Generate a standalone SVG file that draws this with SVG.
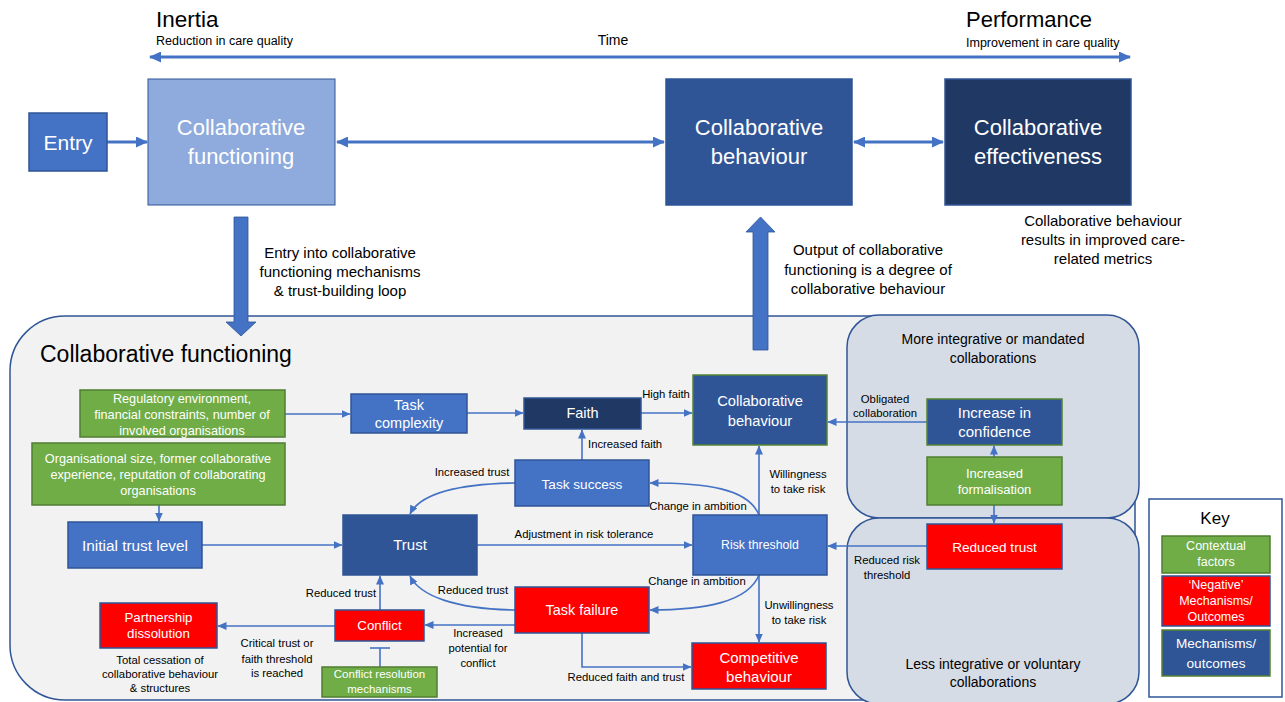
<svg xmlns="http://www.w3.org/2000/svg" width="1285" height="702" viewBox="0 0 1285 702">
<defs>
<marker id="ah" markerUnits="userSpaceOnUse" markerWidth="9" markerHeight="8" refX="8.5" refY="4" orient="auto-start-reverse"><path d="M0,0 L9,4 L0,8 z" fill="#4472C4"/></marker>
<marker id="ahb" markerUnits="userSpaceOnUse" markerWidth="12" markerHeight="11" refX="11" refY="5.5" orient="auto-start-reverse"><path d="M0,0 L12,5.5 L0,11 z" fill="#4472C4"/></marker>
</defs>
<style>
text{font-family:"Liberation Sans",Arial,sans-serif}
.w{fill:#fff}
.k{fill:#000}
.m{text-anchor:middle}
.c{stroke:#4472C4;stroke-width:1.6;fill:none;marker-end:url(#ah)}
.cb{stroke:#4472C4;stroke-width:3;fill:none;marker-end:url(#ahb);marker-start:url(#ahb)}
.lb{fill:#8FAADC;stroke:#2F5597;stroke-width:1}
.bl{fill:#4472C4;stroke:#2F5597;stroke-width:1.5}
.db{fill:#2F5597;stroke:#2F5597;stroke-width:1.5}
.dbg{fill:#2F5597;stroke:#548235;stroke-width:1.5}
.nv{fill:#203864;stroke:#2F5597;stroke-width:1.5}
.gr{fill:#70AD47;stroke:#507E32;stroke-width:1.5}
.rd{fill:#FF0000;stroke:#2F5597;stroke-width:1.5}
.lab{font-size:11.3px}
</style>

<!-- panels -->
<g id="panel-cf">
<rect x="10" y="316" width="1125" height="384" rx="55" fill="#F2F2F2" stroke="#2F5597" stroke-width="1.5"/>
<text x="40" y="362" font-size="23" class="k">Collaborative functioning</text>
</g>
<g id="panel-more">
<rect x="847" y="315" width="292" height="203" rx="32" fill="#D6DCE5" stroke="#2F5597" stroke-width="1.5"/>
<text class="m k" x="993" y="344" font-size="14">More integrative or mandated</text>
<text class="m k" x="993" y="363" font-size="14">collaborations</text>
</g>
<g id="panel-less">
<rect x="847" y="518" width="292" height="186" rx="32" fill="#D6DCE5" stroke="#2F5597" stroke-width="1.5"/>
<text class="m k" x="993" y="669" font-size="14">Less integrative or voluntary</text>
<text class="m k" x="993" y="687" font-size="14">collaborations</text>
</g>

<!-- top labels -->
<g id="timeline">
<text x="156" y="27" font-size="22.5" class="k">Inertia</text>
<text x="156" y="45" font-size="12.5" class="k">Reduction in care quality</text>
<text x="613" y="45" font-size="14" class="k m">Time</text>
<text x="966" y="27" font-size="22" class="k">Performance</text>
<text x="966" y="47" font-size="12.5" class="k">Improvement in care quality</text>
</g>

<!-- connectors -->
<g id="connectors">
<line class="cb" x1="150" y1="57" x2="1130" y2="57"/>
<line x1="107" y1="142" x2="147" y2="142" stroke="#4472C4" stroke-width="3" marker-end="url(#ahb)"/>
<line class="cb" x1="337" y1="142" x2="664" y2="142"/>
<line class="cb" x1="854" y1="142" x2="943" y2="142"/>
<polygon points="234,217 248,217 248,322 256,322 241,336 226,322 234,322" fill="#4472C4" stroke="#2F5597" stroke-width="0.8"/>
<polygon points="753,350 768,350 768,232 775,232 760.5,217 746,232 753,232" fill="#4472C4" stroke="#2F5597" stroke-width="0.8"/>

<line class="c" x1="285" y1="414" x2="350" y2="414"/>
<line class="c" x1="467" y1="413" x2="523" y2="413"/>
<line class="c" x1="641" y1="413" x2="692" y2="413"/>
<line class="c" x1="159" y1="505" x2="159" y2="521"/>
<line class="c" x1="202" y1="545" x2="342" y2="545"/>
<line class="c" x1="477" y1="545" x2="692" y2="545"/>
<line class="c" x1="927" y1="422" x2="828" y2="422"/>
<line class="c" x1="927" y1="546" x2="828" y2="546"/>
<line class="c" x1="994" y1="457" x2="994" y2="446"/>
<line class="c" x1="994" y1="505" x2="994" y2="523"/>
<line class="c" x1="582" y1="460" x2="582" y2="430"/>
<line class="c" x1="759" y1="515" x2="759" y2="446"/>
<line class="c" x1="759" y1="575" x2="759" y2="642"/>
<path class="c" d="M759,515 C748,488 705,483 650,483"/>
<path class="c" d="M759,575 C748,602 705,610 650,610"/>
<path class="c" d="M515,483 C455,484 420,494 410,514"/>
<path class="c" d="M515,610 C455,609 420,596 410,576"/>
<line class="c" x1="515" y1="625" x2="425" y2="625"/>
<line class="c" x1="335" y1="626" x2="218" y2="626"/>
<line class="c" x1="380" y1="610" x2="380" y2="576"/>
<polyline class="c" points="582,633 582,667 691,667"/>
<line x1="380" y1="667" x2="380" y2="648" stroke="#4472C4" stroke-width="1.6"/>
<line x1="370" y1="648" x2="390" y2="648" stroke="#4472C4" stroke-width="1.6"/>
</g>

<!-- connector labels -->
<g id="connector-labels">
<text class="m k" x="340" y="258" font-size="15">Entry into collaborative</text>
<text class="m k" x="340" y="277" font-size="15">functioning mechanisms</text>
<text class="m k" x="340" y="296" font-size="15">&amp; trust-building loop</text>
<text class="m k" x="868" y="255" font-size="15">Output of collaborative</text>
<text class="m k" x="868" y="275" font-size="15">functioning is a degree of</text>
<text class="m k" x="868" y="294" font-size="15">collaborative behaviour</text>
<text class="m k" x="1103" y="226" font-size="15">Collaborative behaviour</text>
<text class="m k" x="1103" y="245" font-size="15">results in improved care-</text>
<text class="m k" x="1103" y="264" font-size="15">related metrics</text>

<text class="m k lab" x="666" y="398">High faith</text>
<text class="k lab" x="588" y="448">Increased faith</text>
<text class="m k lab" x="472" y="476">Increased trust</text>
<text class="m k lab" x="698" y="510">Change in ambition</text>
<text class="m k lab" x="798" y="478">Willingness</text>
<text class="m k lab" x="798" y="493">to take risk</text>
<text class="m k lab" x="584" y="538">Adjustment in risk tolerance</text>
<text class="m k lab" x="697" y="585">Change in ambition</text>
<text class="m k lab" x="799" y="609">Unwillingness</text>
<text class="m k lab" x="799" y="624">to take risk</text>
<text class="m k lab" x="473" y="594">Reduced trust</text>
<text class="m k lab" x="341" y="597">Reduced trust</text>
<text class="m k lab" x="478" y="637">Increased</text>
<text class="m k lab" x="478" y="652">potential for</text>
<text class="m k lab" x="478" y="667">conflict</text>
<text class="m k lab" x="626" y="681">Reduced faith and trust</text>
<text class="m k lab" x="277" y="647">Critical trust or</text>
<text class="m k lab" x="277" y="663">faith threshold</text>
<text class="m k lab" x="277" y="677">is reached</text>
<text class="m k lab" x="160" y="664">Total cessation of</text>
<text class="m k lab" x="160" y="678">collaborative behaviour</text>
<text class="m k lab" x="160" y="692">&amp; structures</text>
<text class="m k lab" x="885" y="403">Obligated</text>
<text class="m k lab" x="885" y="417">collaboration</text>
<text class="m k lab" x="887" y="564">Reduced risk</text>
<text class="m k lab" x="887" y="579">threshold</text>
</g>

<!-- top nodes -->
<g id="entry"><rect class="bl" x="29" y="113" width="78" height="58"/><text class="m w" x="68" y="150" font-size="21">Entry</text></g>
<g id="cf-top"><rect class="lb" x="148" y="79" width="187" height="126"/><text class="m w" x="241" y="135" font-size="22">Collaborative</text><text class="m w" x="241" y="164" font-size="22">functioning</text></g>
<g id="cb-top"><rect class="db" x="666" y="79" width="186" height="126"/><text class="m w" x="759" y="135" font-size="22">Collaborative</text><text class="m w" x="759" y="164" font-size="22">behaviour</text></g>
<g id="ce-top"><rect class="nv" x="945" y="79" width="186" height="126"/><text class="m w" x="1038" y="135" font-size="22">Collaborative</text><text class="m w" x="1038" y="164" font-size="22">effectiveness</text></g>

<!-- inner nodes -->
<g id="reg-env"><rect class="gr" x="80" y="390" width="205" height="47"/>
<text class="m w" x="182" y="402.5" font-size="12.7">Regulatory environment,</text>
<text class="m w" x="182" y="418.5" font-size="12.7">financial constraints, number of</text>
<text class="m w" x="182" y="434.5" font-size="12.7">involved organisations</text></g>
<g id="org-size"><rect class="gr" x="32" y="443" width="253" height="62"/>
<text class="m w" x="158" y="462.5" font-size="12.7">Organisational size, former collaborative</text>
<text class="m w" x="158" y="478.5" font-size="12.7">experience, reputation of collaborating</text>
<text class="m w" x="158" y="495" font-size="12.7">organisations</text></g>
<g id="initial-trust"><rect class="bl" x="68" y="522" width="134" height="46"/><text class="m w" x="135" y="550.5" font-size="15.4">Initial trust level</text></g>
<g id="task-complexity"><rect class="bl" x="351" y="394" width="116" height="39"/><text class="m w" x="409" y="410" font-size="14.5">Task</text><text class="m w" x="409" y="428" font-size="14.5">complexity</text></g>
<g id="faith"><rect class="nv" x="524" y="398" width="117" height="31"/><text class="m w" x="582.5" y="418" font-size="14.5">Faith</text></g>
<g id="cb-inner"><rect class="dbg" x="693" y="375" width="134" height="70"/><text class="m w" x="760" y="406" font-size="14.7">Collaborative</text><text class="m w" x="760" y="426" font-size="14.7">behaviour</text></g>
<g id="task-success"><rect class="bl" x="515" y="460" width="134" height="46"/><text class="m w" x="582" y="489" font-size="13.6">Task success</text></g>
<g id="trust"><rect class="db" x="343" y="515" width="134" height="60"/><text class="m w" x="410" y="550" font-size="15">Trust</text></g>
<g id="risk-threshold"><rect class="bl" x="693" y="515" width="134" height="60"/><text class="m w" x="760" y="549" font-size="12.3">Risk threshold</text></g>
<g id="task-failure"><rect class="rd" x="515" y="587" width="134" height="46"/><text class="m w" x="582" y="615" font-size="14.4">Task failure</text></g>
<g id="conflict"><rect class="rd" x="335" y="610" width="89" height="31"/><text class="m w" x="379.5" y="630" font-size="13.3">Conflict</text></g>
<g id="conflict-resolution"><rect class="gr" x="322" y="667" width="115" height="30"/><text class="m w" x="379.5" y="678" font-size="11.5">Conflict resolution</text><text class="m w" x="379.5" y="692.5" font-size="11.5">mechanisms</text></g>
<g id="partnership-dissolution"><rect class="rd" x="100" y="603" width="117" height="45"/><text class="m w" x="158.5" y="622" font-size="13.3">Partnership</text><text class="m w" x="158.5" y="638" font-size="13.3">dissolution</text></g>
<g id="competitive"><rect class="rd" x="692" y="643" width="134" height="46"/><text class="m w" x="759" y="663" font-size="15">Competitive</text><text class="m w" x="759" y="682" font-size="15">behaviour</text></g>
<g id="increase-confidence"><rect class="dbg" x="927" y="399" width="135" height="46"/><text class="m w" x="994.5" y="418" font-size="15">Increase in</text><text class="m w" x="994.5" y="437" font-size="15">confidence</text></g>
<g id="formalisation"><rect class="gr" x="927" y="457" width="135" height="48"/><text class="m w" x="994.5" y="478" font-size="13">Increased</text><text class="m w" x="994.5" y="494" font-size="13">formalisation</text></g>
<g id="reduced-trust"><rect class="rd" x="927" y="524" width="135" height="45"/><text class="m w" x="994.5" y="552" font-size="13.6">Reduced trust</text></g>

<!-- key -->
<g id="key">
<rect x="1149" y="499" width="133" height="198" fill="#fff" stroke="#2F5597" stroke-width="1.5"/>
<text class="m k" x="1215" y="524" font-size="17">Key</text>
<rect class="gr" x="1162" y="536" width="108" height="37"/>
<text class="m w" x="1216" y="550" font-size="12.5">Contextual</text><text class="m w" x="1216" y="566" font-size="12.5">factors</text>
<rect class="rd" x="1162" y="576" width="108" height="50"/>
<text class="m w" x="1216" y="589" font-size="12.5">‘Negative’</text><text class="m w" x="1216" y="605" font-size="12.5">Mechanisms/</text><text class="m w" x="1216" y="621" font-size="12.5">Outcomes</text>
<rect class="dbg" x="1162" y="630" width="108" height="46"/>
<text class="m w" x="1216" y="648" font-size="13.6">Mechanisms/</text><text class="m w" x="1216" y="668" font-size="13.6">outcomes</text>
</g>
</svg>
